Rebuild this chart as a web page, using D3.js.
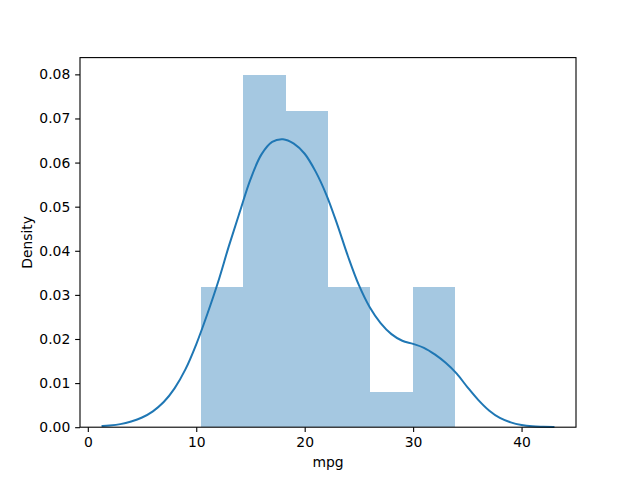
<!DOCTYPE html>
<html><head><meta charset="utf-8">
<script src="https://cdn.jsdelivr.net/npm/d3@7"></script>
<style>body{margin:0;background:#fff}svg text{font-family:"DejaVu Sans",sans-serif;font-size:13.9px;fill:#000}</style>
</head><body>
<script>
// Histogram bins (mpg), density heights
const binEdges = [10.4, 14.3167, 18.2333, 22.15, 26.0667, 29.9833, 33.9];
const binDensity = [0.0319, 0.0798, 0.0718, 0.0319, 0.0080, 0.0319];
// KDE curve
const kdeX = [1.36, 2, 3, 4, 5, 6, 7, 8, 9, 10, 11, 12, 13, 14, 15, 16, 17, 18, 19, 20, 21, 22, 23, 24, 25, 26, 27, 28, 29, 30, 31, 32, 33, 34, 35, 36, 37, 38, 39, 40, 41, 42, 42.94];
const kdeY = [0.0003, 0.0004, 0.0007, 0.0013, 0.0022, 0.0036, 0.0057, 0.0088, 0.0131, 0.0188, 0.0255, 0.0328, 0.0410, 0.0487, 0.0562, 0.0618, 0.0647, 0.0653, 0.0643, 0.0620, 0.0580, 0.0527, 0.0460, 0.0387, 0.0322, 0.0272, 0.0236, 0.0211, 0.0196, 0.0189, 0.0180, 0.0165, 0.0146, 0.0122, 0.0091, 0.0062, 0.0038, 0.0021, 0.0011, 0.0005, 0.0002, 0.0001, 0.00005];
const xTicks = [0, 10, 20, 30, 40];
const yTicks = [0, 0.01, 0.02, 0.03, 0.04, 0.05, 0.06, 0.07, 0.08];

const W = 640, H = 480;
const L = 80, R = 576, T = 57.6, B = 427.2;
const svg = d3.select("body").append("svg").attr("width", W).attr("height", H);
const x = d3.scaleLinear().domain([-0.72, 45.02]).range([L, R]);
const y = d3.scaleLinear().domain([0, 0.0838]).range([B, T]);

const bars = binDensity.map((d, i) => ({x0: binEdges[i], x1: binEdges[i+1], v: d}));
svg.append("g").attr("shape-rendering", "crispEdges").selectAll("rect").data(bars).join("rect")
  .attr("x", d => x(d.x0)).attr("width", d => x(d.x1) - x(d.x0))
  .attr("y", d => y(d.v)).attr("height", d => y(0) - y(d.v))
  .attr("fill", "#a5c8e1");

const pts = kdeX.map((v, i) => [v, kdeY[i]]);
svg.append("path").datum(pts)
  .attr("d", d3.line().x(d => x(d[0])).y(d => y(d[1])).curve(d3.curveCatmullRom.alpha(0.5)))
  .attr("fill", "none").attr("stroke", "#1f77b4").attr("stroke-width", 2).attr("stroke-linecap", "square");

const xa = svg.append("g").attr("transform", `translate(0,${B})`)
  .call(d3.axisBottom(x).tickValues(xTicks).tickFormat(d3.format("d")).tickSize(4.86).tickPadding(4.86));
const ya = svg.append("g").attr("transform", `translate(${L},0)`)
  .call(d3.axisLeft(y).tickValues(yTicks).tickFormat(d3.format(".2f")).tickSize(4.86).tickPadding(4.86));
[xa, ya].forEach(a => {
  a.select(".domain").remove();
  a.selectAll("line").attr("stroke", "#000").attr("stroke-width", 1.1);
  a.selectAll("text").attr("font-family", "DejaVu Sans").attr("font-size", 13.9).attr("fill", "#000");
});

svg.append("rect").attr("x", L).attr("y", T).attr("width", R - L).attr("height", B - T)
  .attr("fill", "none").attr("stroke", "#000").attr("stroke-width", 1.1);

svg.append("text").attr("x", (L + R) / 2).attr("y", 467).attr("text-anchor", "middle").text("mpg");
svg.append("text").attr("transform", `translate(32,${(T + B) / 2}) rotate(-90)`)
  .attr("text-anchor", "middle").text("Density");
</script>
</body></html>
